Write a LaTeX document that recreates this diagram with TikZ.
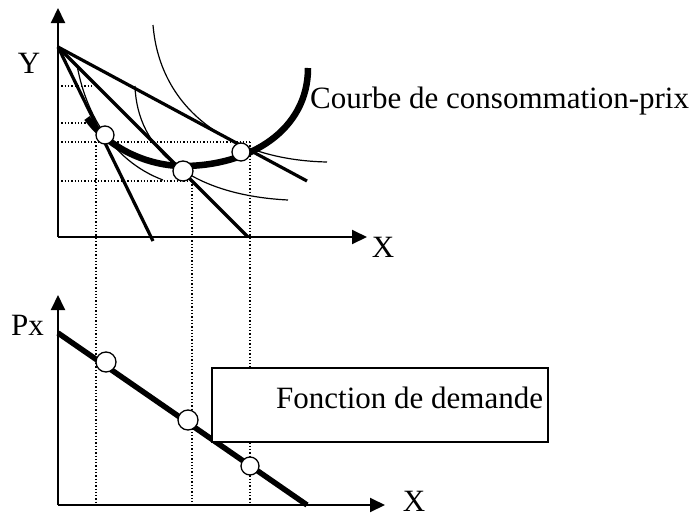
\documentclass[tikz,border=0pt]{standalone}
\usepackage{fontspec}
\setmainfont{Liberation Serif}
\usetikzlibrary{arrows.meta}
\begin{document}
\begin{tikzpicture}[x=1pt,y=-1pt,
  axis/.style={line width=2pt,-{Triangle[length=15pt,width=14pt]}},
  budget/.style={line width=3.2pt},
  thickcurve/.style={line width=6.5pt},
  icurve/.style={line width=1.2pt},
  guide/.style={line width=1.3pt,dotted},
  pt/.style={circle,draw,fill=white,line width=1.3pt,inner sep=0pt,minimum size=#1},
  lbl/.style={font=\fontsize{31}{36}\selectfont,inner sep=0pt}]
\useasboundingbox (0,0) rectangle (699,517);
% ---------- top panel ----------
\coordinate (O1) at (58,237);
\coordinate (A) at (58,47);
\coordinate (Ytip) at (58,8);
\coordinate (Xtip) at (367,237);
% dotted guides
\draw[guide] (58,86) -- (93,86);
\draw[guide] (58,123) -- (87,123);
\draw[guide] (58,142) -- (250,142);
\draw[guide] (58,181) -- (192,181);
\draw[guide] (96,142) -- (96,505);
\draw[guide] (192,181) -- (192,505);
\draw[guide] (250,142) -- (250,505);
% indifference curves
\draw[icurve] (77,65) .. controls (85,110) and (110,160) .. (163,180);
\draw[icurve] (135,86) .. controls (137,150) and (190,195) .. (288,200);
\draw[icurve] (153,25) .. controls (160,110) and (230,160) .. (327,162);
% budget lines
\coordinate (B1) at (153,241);
\coordinate (B2) at (248,237);
\coordinate (B3) at (307,181);
\draw[budget] (A) -- (B1);
\draw[budget] (A) -- (B2);
\draw[budget] (A) -- (B3);
% axes
\draw[axis] (O1) -- (Ytip);
\draw[axis] (O1) -- (Xtip);
% price-consumption curve
\draw[thickcurve] (87,118) .. controls (110,150) and (150,166) .. (183,166)
   .. controls (250,166) and (308,130) .. (308,68);
% equilibrium points
\node[pt=18pt] (E1) at (105,135) {};
\node[pt=20pt] (E2) at (183,171) {};
\node[pt=18pt] (E3) at (241,152) {};
% labels
\node[lbl,anchor=base] (Ylab) at (29,73) {Y};
\node[lbl,anchor=base] (Xlab1) at (383,257) {X};
\node[lbl,anchor=base west] (pcc) at (310,108) {Courbe de consommation-prix};
% ---------- bottom panel ----------
\coordinate (O2) at (58,505);
\coordinate (Ytip2) at (58,295);
\coordinate (Xtip2) at (385,505);
\coordinate (D1) at (58,333);
\coordinate (D2) at (307,505);
\draw[axis] (O2) -- (Ytip2);
\draw[axis] (O2) -- (Xtip2);
\draw[line width=5.5pt] (D1) -- (D2);
\node[pt=20pt] (F1) at (106,362) {};
\node[pt=20pt] (F2) at (188,420) {};
\node[pt=18pt] (F3) at (250,466) {};
\draw[fill=white,line width=1.5pt] (212,368) rectangle (548,442);
\node[lbl,anchor=base west] (fd) at (276,408) {Fonction de demande};
\node[lbl,anchor=base] (Px) at (27.5,335) {Px};
\node[lbl,anchor=base] (Xlab2) at (414,511) {X};
\end{tikzpicture}
\end{document}
